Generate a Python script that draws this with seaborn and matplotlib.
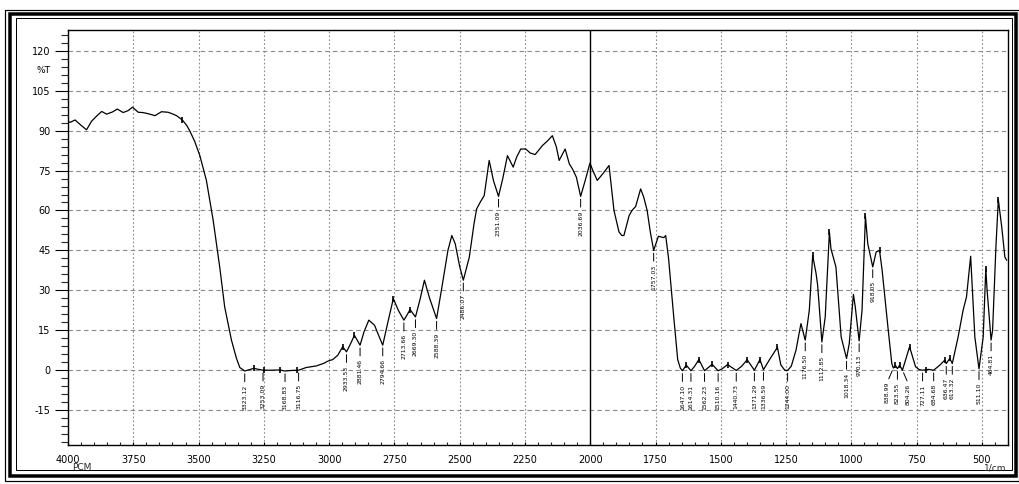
import numpy as np
import pandas as pd
import seaborn as sns
import matplotlib
matplotlib.use("Agg")
import matplotlib.pyplot as plt
from matplotlib.ticker import MultipleLocator, FixedLocator
from matplotlib.patches import Rectangle
from matplotlib import font_manager

# IR transmittance spectrum (wavenumber in 1/cm, transmittance in %T)
wavenumber = [
    4000, 3992, 3973, 3950, 3929, 3910, 3890, 3871, 3852, 3830, 3811, 3789, 3770, 3753,
    3731, 3715, 3699, 3680, 3667, 3642, 3617, 3600, 3584, 3562, 3545, 3534, 3515, 3495,
    3470, 3444, 3419, 3400, 3374, 3355, 3342, 3323.12, 3305, 3288, 3270, 3253.09, 3220,
    3190, 3168.83, 3145, 3116.75, 3100, 3088, 3049, 3020, 3005, 2986, 2967, 2948,
    2933.53, 2920, 2903, 2881.46, 2866, 2848, 2826, 2810, 2794.66, 2775, 2754, 2735,
    2713.66, 2700, 2690, 2669.30, 2652, 2635, 2615, 2588.39, 2570, 2545, 2530, 2517,
    2500, 2486.07, 2463, 2445, 2435, 2419, 2406, 2387, 2370, 2351.09, 2335, 2317, 2295,
    2282, 2266, 2247, 2230, 2211, 2183, 2165, 2145, 2130, 2119, 2096, 2080, 2068, 2053,
    2036.69, 2020, 2001, 1990, 1973, 1950, 1928, 1909, 1890, 1879, 1871, 1851, 1840,
    1826, 1807, 1795, 1782, 1770, 1757.03, 1739, 1718, 1711, 1700, 1686, 1679, 1665,
    1655, 1647.10, 1632, 1614.31, 1600, 1584, 1562.23, 1533, 1510.16, 1495, 1474,
    1440.73, 1420, 1399, 1371.29, 1350, 1336.59, 1310, 1283, 1270, 1255, 1244.00, 1230,
    1212, 1193, 1176.50, 1161, 1148, 1135, 1129, 1112.85, 1100, 1084, 1078, 1059, 1039,
    1018.34, 1008, 992, 985, 970.13, 959, 946, 937, 918.05, 905, 892, 882, 860, 845,
    838.99, 831, 823.55, 815, 804.26, 777, 754, 740, 727.11, 705, 684.68, 660, 642,
    636.47, 623, 613.32, 591, 572, 559, 543, 527, 511.10, 495, 485, 480, 464.81, 459,
    446, 437, 424, 412, 405,
]
transmittance = [
    93.5, 93.1, 94.0, 92.0, 90.3, 93.5, 95.5, 97.2, 96.2, 97.0, 98.1, 96.8, 97.5, 98.8,
    96.9, 96.8, 96.5, 96.0, 95.6, 97.1, 96.9, 96.3, 95.6, 94.0, 91.9, 90.0, 86.0, 80.6,
    71.3, 56.3, 38.8, 23.8, 11.3, 4.5, 1.0, -0.3, 0.2, 0.7, 0.3, 0.0, 0.0,
    0.1, -0.3, -0.1, 0.0, 0.6, 1.0, 1.6, 2.6, 3.4, 4.0, 5.6, 8.8,
    6.9, 9.5, 13.1, 9.4, 14.5, 18.8, 16.9, 13.0, 9.4, 18.0, 26.9, 22.5,
    18.8, 21.0, 22.8, 20.0, 26.5, 33.8, 27.0, 19.4, 30.0, 45.0, 50.6, 47.5,
    39.0, 33.8, 42.5, 55.0, 60.6, 63.5, 65.6, 78.8, 71.0, 65.3, 72.0, 80.6, 76.3,
    80.0, 83.1, 83.1, 81.6, 81.0, 84.4, 86.0, 88.1, 84.0, 78.8, 83.1, 77.5, 75.6, 72.5,
    65.3, 71.0, 77.8, 75.0, 71.3, 74.0, 76.9, 60.0, 52.0, 50.6, 50.6, 58.1, 60.0,
    61.5, 68.1, 65.0, 60.0, 52.0, 45.0, 50.3, 49.8, 50.6, 42.0, 26.3, 18.8, 4.0,
    0.8, -0.2, 1.9, -0.2, 1.5, 4.0, -0.2, 2.2, -0.2, 0.5, 2.1,
    -0.1, 1.5, 3.9, 0.0, 4.0, 0.2, 4.5, 8.6, 2.0, 0.0, -0.1, 1.5,
    7.5, 17.5, 11.3, 22.5, 43.1, 36.3, 31.9, 10.6, 20.0, 51.9, 45.6, 38.8, 12.5,
    4.4, 10.0, 28.5, 23.8, 11.0, 22.5, 57.8, 47.5, 38.8, 44.4, 45.0, 37.5, 16.3, 2.5,
    0.8, 1.8, 0.6, 1.9, 0.0, 8.8, 1.3, 0.2, 0.0, 0.3, 0.0, 2.0, 3.8,
    2.5, 4.4, 2.5, 12.5, 22.5, 27.5, 42.8, 12.5, 0.5, 12.5, 38.1, 30.0, 11.3, 15.0,
    46.9, 64.0, 53.8, 42.5, 41.3,
]

# Picked minima (labelled) and horizontal nudges of their labels, in pixels
label_wn = [
    3323.12, 3253.09, 3168.83, 3116.75, 2933.53, 2881.46, 2794.66, 2713.66, 2669.30,
    2588.39, 2486.07, 2351.09, 2036.69, 1757.03, 1647.10, 1614.31, 1562.23, 1510.16,
    1440.73, 1371.29, 1336.59, 1244.00, 1176.50, 1112.85, 1018.34, 970.13, 918.05,
    838.99, 823.55, 804.26, 727.11, 684.68, 636.47, 613.32, 511.10, 464.81,
]
label_dx = [0] * len(label_wn)
label_dx[label_wn.index(838.99)] = -6
label_dx[label_wn.index(804.26)] = 6

# Picked peaks marked with a short bar on the trace
peak_wn = [3562, 3288, 3250, 3190, 3122, 2948, 2903, 2754, 2690, 1632, 1584, 1533,
           1474, 1399, 1350, 1283, 1148, 1084, 946, 892, 831, 815, 777, 713, 642,
           623, 485, 437]

y_ticks = [-15, 0, 15, 30, 45, 60, 75, 90, 105, 120]
x_ticks = [4000, 3750, 3500, 3250, 3000, 2750, 2500, 2250, 2000, 1750, 1500, 1250,
           1000, 750, 500]

W, H = 1019, 484
sns.set_theme(style="white")
plt.rcParams["font.family"] = ["DejaVu Sans"]

names = {f.name for f in font_manager.fontManager.ttflist}
if "Liberation Sans Narrow" in names:
    small_family, small_size = "Liberation Sans Narrow", 5.2
else:
    small_family, small_size = "DejaVu Sans", 4.4

fig = plt.figure(figsize=(W / 100, H / 100), dpi=100)
fig.patch.set_facecolor("white")
ax = fig.add_axes([68 / W, 1 - 445 / H, (1008 - 68) / W, (445 - 30) / H])

df = pd.DataFrame({"wn": wavenumber, "T": transmittance})
sns.lineplot(data=df, x="wn", y="T", ax=ax, color="black", lw=0.9,
             estimator=None, sort=False)

ax.set_xlim(4000, 400)
ax.set_ylim(-28.1, 127.8)
ax.set_xlabel("")
ax.set_ylabel("")

ax.xaxis.set_major_locator(FixedLocator(x_ticks))
ax.xaxis.set_minor_locator(MultipleLocator(50))
ax.yaxis.set_major_locator(FixedLocator(y_ticks))
ax.yaxis.set_minor_locator(MultipleLocator(3))
ax.set_xticklabels([str(v) for v in x_ticks])
ax.set_yticklabels([str(v) for v in y_ticks])

ax.tick_params(axis="y", which="major", direction="out", length=9.4, width=0.8,
               pad=3, labelsize=7, colors="black", left=True)
ax.tick_params(axis="y", which="minor", direction="out", length=5, width=0.8,
               left=True)
ax.tick_params(axis="x", which="both", direction="in", length=2.5, width=0.8,
               bottom=True)
ax.tick_params(axis="x", which="major", pad=7.5, labelsize=7, colors="black")

ax.grid(False)
for v in x_ticks[1:]:
    if v != 2000:
        ax.axvline(v, color="#8a8a8a", lw=0.8, ls=(0, (1.5, 2.0)), zorder=0)
for v in y_ticks:
    ax.axhline(v, color="#8a8a8a", lw=0.8, ls=(0, (4, 3)), zorder=0)
ax.axvline(2000, color="black", lw=1.0, zorder=1)

for s in ax.spines.values():
    s.set_color("black")
    s.set_linewidth(1.0)
    s.set_visible(True)

wn_sorted = np.array(wavenumber[::-1], dtype=float)
t_sorted = np.array(transmittance[::-1], dtype=float)

# short bars on peaks
peak_t = np.interp(peak_wn, wn_sorted, t_sorted)
ax.plot(peak_wn, peak_t, ls="none", marker="|", markersize=4.5,
        markeredgewidth=1.2, color="black", zorder=3)

# hanging labels on minima
for wn, dx in zip(label_wn, label_dx):
    t = float(np.interp(wn, wn_sorted, t_sorted))
    ax.annotate(f"{wn:.2f}", xy=(wn, t), xytext=(dx * 0.72, -14 * 0.72),
                textcoords="offset points", rotation=90, ha="center", va="top",
                fontsize=small_size, family=small_family, color="black",
                arrowprops=dict(arrowstyle="-", color="black", lw=0.7,
                                shrinkA=0, shrinkB=2, relpos=(0.5, 1.0)))

# axis captions
ax.annotate("%T", xy=(0, 112.5), xycoords=("axes fraction", "data"),
            xytext=(-12.4, 0), textcoords="offset points", ha="right",
            va="center", fontsize=6.5, color="black")
fig.text(82 / W, 1 - 468 / H, "PCM", ha="center", va="center", fontsize=6.5)
fig.text(995 / W, 1 - 468 / H, "1/cm", ha="center", va="center", fontsize=6.5)

# page frame: thin / thick / thin
def frame(x0, y0, x1, y1, lw_px):
    fig.add_artist(Rectangle((x0 / W, 1 - y1 / H), (x1 - x0) / W, (y1 - y0) / H,
                             transform=fig.transFigure, fill=False,
                             ec="black", lw=lw_px * 0.72))

frame(4.5, 9.5, 1018.5, 480.5, 1.2)
frame(10, 13.5, 1016, 475.5, 3.5)
frame(16, 18, 1012, 470, 1.0)

fig.savefig("out.png", dpi=100)
